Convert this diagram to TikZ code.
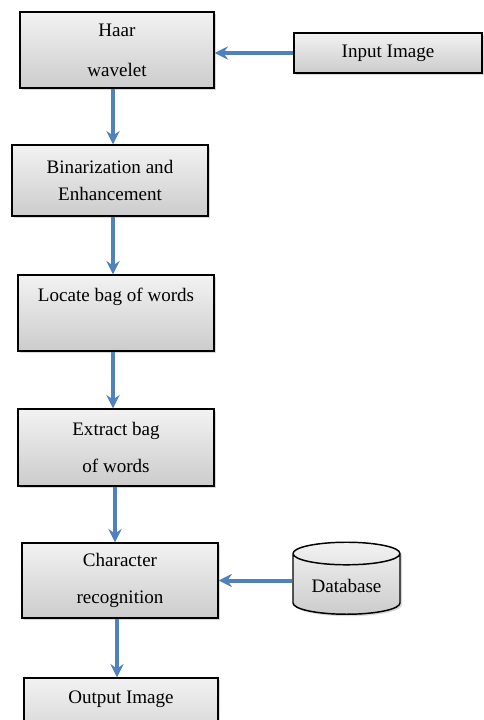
\documentclass[tikz,border=0pt]{standalone}
\usepackage{fontspec}
\setmainfont{Liberation Serif}
\usetikzlibrary{arrows,arrows.meta,shapes,positioning,shapes.geometric,shadows}
\definecolor{arrowblue}{RGB}{79,129,189}

\begin{document}
\begin{tikzpicture}[x=0.75pt,y=-0.75pt]
\tikzset{procbox/.style ={draw, line width=1.1pt, top color=gray!10, bottom color=gray!40,
  drop shadow={opacity=0.3,shadow xshift=1.5pt,shadow yshift=-1.5pt},
  align=center, font=\fontsize{14.3}{27.75}\selectfont, inner sep=2pt}}
\tikzset{flowarrow/.style ={-{Stealth[length=10pt,width=10pt,inset=3.5pt]}, draw=arrowblue, line width=3pt}}
% \tikzset{dbshape/.style ={cylinder, shape border rotate=90}}
\useasboundingbox (0,0) rectangle (483,720);
    \node[procbox, minimum width=145.5pt, minimum height=57pt] (haar) at (117,50) {Haar\\[2.25pt]wavelet};
    \node[procbox, minimum width=141pt, minimum height=30pt] (input) at (388,53) {Input Image};
    \node[procbox, minimum width=147pt, minimum height=53.25pt] (binar) at (110,180.5) {Binarization and\\[-7.5pt]Enhancement};
    \node[procbox, minimum width=147pt, minimum height=57pt] (locate) at (116,313) {Locate bag of words\\\mbox{}};
    \node[procbox, minimum width=147pt, minimum height=57.75pt] (extract) at (116,447.5) {Extract bag\\of words};
    \node[procbox, minimum width=147pt, minimum height=56.25pt] (charrec) at (120,580.5) {Character\\recognition};
    \node[procbox, minimum width=145.5pt, minimum height=57pt] (output) at (121,716) {Output Image\\\mbox{}};
    \node[procbox, cylinder, shape border rotate=90, aspect=0.3, minimum width=80.25pt, minimum height=54pt,
      font=\fontsize{14.3}{17}\selectfont] (db) at (346.5,586) {Database};
    \draw[flowarrow] (input.west) -- (haar.east |- input.west);
    \draw[flowarrow] (haar.south -| 113,0) -- (binar.north -| 113,0);
    \draw[flowarrow] (binar.south -| 113,0) -- (locate.north -| 113,0);
    \draw[flowarrow] (locate.south -| 113,0) -- (extract.north -| 113,0);
    \draw[flowarrow] (extract.south -| 115,0) -- (charrec.north -| 115,0);
    \draw[flowarrow] (charrec.south -| 117,0) -- (output.north -| 117,0);
    \draw[flowarrow] (db.west |- charrec) -- (charrec.east);
\end{tikzpicture}
\end{document}
